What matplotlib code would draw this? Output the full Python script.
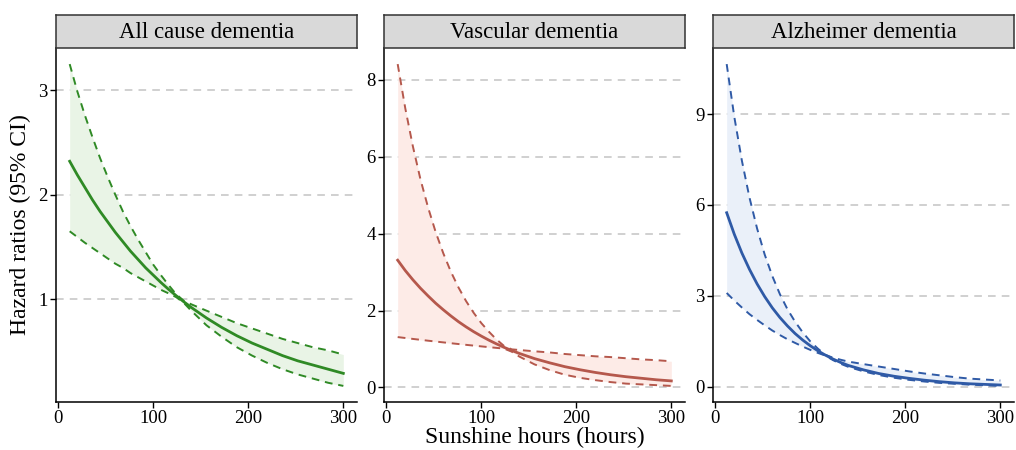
import matplotlib.pyplot as plt

plt.rcParams['font.family'] = ['Liberation Serif', 'DejaVu Serif']

hours = [12, 20, 28, 36, 44, 52, 60, 68, 76, 84, 92, 100, 108, 116, 124, 132, 140,
         156, 172, 188, 204, 220, 236, 252, 268, 284, 300]

all_hr = [2.32, 2.19, 2.07, 1.95, 1.84, 1.74, 1.64, 1.55, 1.46, 1.38, 1.30, 1.23, 1.16,
          1.095, 1.034, 0.976, 0.921, 0.82, 0.73, 0.65, 0.58, 0.52, 0.46, 0.41, 0.37, 0.33, 0.29]
all_hi = [3.25, 2.99, 2.76, 2.55, 2.35, 2.17, 2.00, 1.84, 1.70, 1.57, 1.45, 1.33, 1.23,
          1.136, 1.048, 0.985, 0.951, 0.89, 0.83, 0.77, 0.72, 0.67, 0.62, 0.58, 0.54, 0.51, 0.47]
all_lo = [1.65, 1.595, 1.54, 1.49, 1.44, 1.39, 1.34, 1.30, 1.25, 1.21, 1.17, 1.13, 1.09,
          1.056, 1.02, 0.966, 0.889, 0.75, 0.64, 0.54, 0.46, 0.39, 0.33, 0.28, 0.24, 0.20, 0.17]

vas_hr = [3.31, 3.04, 2.80, 2.58, 2.38, 2.19, 2.02, 1.86, 1.71, 1.575, 1.45, 1.336, 1.23,
          1.133, 1.043, 0.961, 0.885, 0.75, 0.64, 0.54, 0.46, 0.39, 0.33, 0.28, 0.24, 0.20, 0.17]
vas_hi = [8.41, 7.26, 6.27, 5.41, 4.68, 4.04, 3.49, 3.01, 2.60, 2.245, 1.94, 1.674, 1.45,
          1.248, 1.078, 0.991, 0.974, 0.94, 0.91, 0.87, 0.84, 0.81, 0.79, 0.76, 0.73, 0.71, 0.68]
vas_lo = [1.31, 1.286, 1.262, 1.239, 1.216, 1.194, 1.172, 1.15, 1.129, 1.108, 1.088, 1.068, 1.048,
          1.029, 1.01, 0.931, 0.804, 0.60, 0.45, 0.33, 0.25, 0.19, 0.14, 0.10, 0.08, 0.06, 0.04]

alz_hr = [5.74, 5.03, 4.41, 3.87, 3.39, 2.97, 2.60, 2.28, 2.00, 1.75, 1.535, 1.346, 1.179,
          1.034, 0.906, 0.794, 0.696, 0.55, 0.43, 0.34, 0.27, 0.21, 0.16, 0.12, 0.09, 0.07, 0.05]
alz_hi = [10.65, 8.91, 7.46, 6.24, 5.22, 4.36, 3.65, 3.05, 2.55, 2.14, 1.79, 1.49, 1.25,
          1.046, 0.948, 0.884, 0.823, 0.74, 0.66, 0.58, 0.50, 0.43, 0.37, 0.31, 0.26, 0.23, 0.20]
alz_lo = [3.09, 2.84, 2.61, 2.39, 2.20, 2.02, 1.85, 1.70, 1.56, 1.44, 1.32, 1.21, 1.11,
          1.02, 0.87, 0.75, 0.65, 0.50, 0.38, 0.29, 0.22, 0.165, 0.12, 0.09, 0.06, 0.04, 0.02]

titles = ["All cause dementia", "Vascular dementia", "Alzheimer dementia"]
yticks = [[1, 2, 3], [0, 2, 4, 6, 8], [0, 3, 6, 9]]
colors = ["#2f8a25", "#b5584c", "#2f5aa6"]
fills = ["#e9f4e6", "#fdebe7", "#eaf0f9"]
series = [(all_hr, all_hi, all_lo), (vas_hr, vas_hi, vas_lo), (alz_hr, alz_hi, alz_lo)]

fig = plt.figure(figsize=(10.16, 4.5), dpi=100)
lefts = [56/1016, 384/1016, 713/1016]
width = 301/1016
bottom = 1 - 402/450
height = 354/450
strip_h = 33/450

for i in range(3):
    ax = fig.add_axes([lefts[i], bottom, width, height])
    hr, hi, lo = series[i]
    ax.fill_between(hours, lo, hi, color=fills[i], lw=0, zorder=1)
    for t in yticks[i]:
        ax.axhline(t, color="#c4c4c4", lw=1.1, dashes=(5, 4), zorder=0)
    ax.plot(hours, hi, color=colors[i], lw=1.4, dashes=(4, 3), zorder=3)
    ax.plot(hours, lo, color=colors[i], lw=1.4, dashes=(4, 3), zorder=3)
    ax.plot(hours, hr, color=colors[i], lw=2.0, zorder=4)

    ymin = min(lo); ymax = max(hi)
    pad = (ymax - ymin) * 0.05
    ax.set_ylim(ymin - pad, ymax + pad)
    ax.set_xlim(12 - 14.4, 300 + 14.4)
    ax.set_xticks([0, 100, 200, 300])
    ax.set_yticks(yticks[i])
    ax.tick_params(labelsize=13.5, length=4, width=1, color="black", pad=2)
    for s in ["top", "right"]:
        ax.spines[s].set_visible(False)
    for s in ["left", "bottom"]:
        ax.spines[s].set_linewidth(1.1)

    sax = fig.add_axes([lefts[i], bottom + height, width, strip_h])
    sax.set_xticks([]); sax.set_yticks([])
    sax.set_facecolor("#d9d9d9")
    for s in sax.spines.values():
        s.set_linewidth(1.1)
        s.set_color("#333333")
    sax.text(0.5, 0.48, titles[i], ha="center", va="center", fontsize=16.5,
             transform=sax.transAxes)

fig.text(20/1016, 1 - 225/450, "Hazard ratios (95% CI)", rotation=90,
         ha="center", va="center", fontsize=17)
fig.text(535/1016, 1 - 437/450, "Sunshine hours (hours)", ha="center",
         va="center", fontsize=17)

plt.savefig("out.png", dpi=100)
